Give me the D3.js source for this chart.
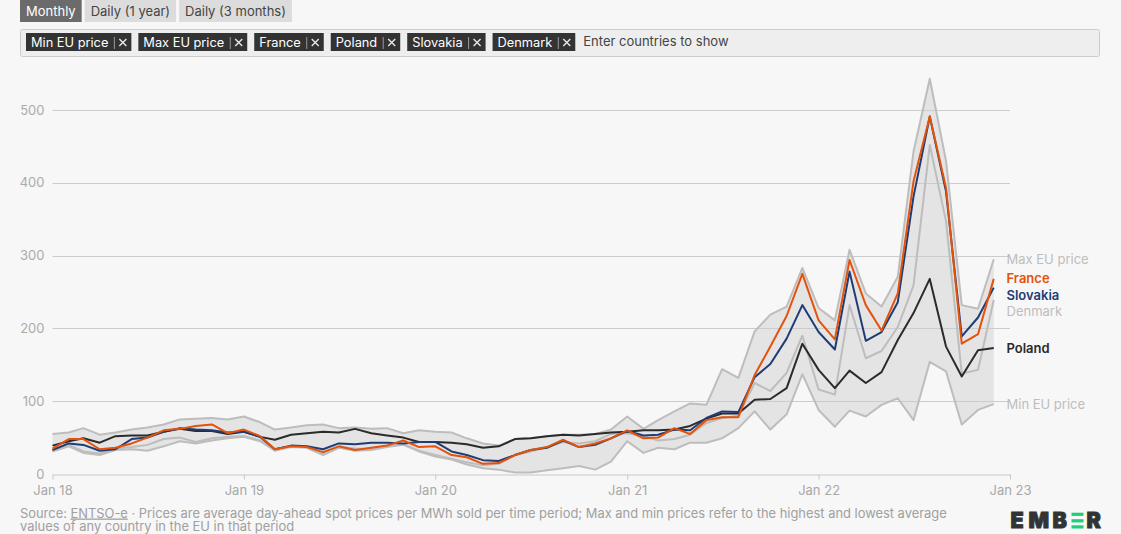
<!DOCTYPE html>
<html><head><meta charset="utf-8">
<script src="https://cdn.jsdelivr.net/npm/d3@7"></script>
<style>
html,body{margin:0;padding:0;background:#f7f7f7;}
svg{display:block;font-family:Inter,"Noto Sans",sans-serif;}
</style></head>
<body><svg id="c" width="1121" height="534"></svg>
<script>
// ---- data (EUR/MWh, monthly Jan 2018 .. Dec 2022) ----
const startMonth = "2018-01";
const monthCount = 60;
const maxEU = [55,57,63,54,57,61,64,68,75,76,77,75,
  79,71,61,64,67,68,63,64,62,63,56,60,
  58,57,49,42,39,48,49,52,54,54,55,61,
  79,62,74,86,97,95,144,132,196,219,230,283,
  228,211,308,248,230,271,443,543,430,232,227,295];
const minEU = [31,38,29,26,33,34,32,38,45,42,46,49,
  51,45,32,37,36,26,36,32,33,37,40,31,
  24,20,13,8,6,2,2,5,8,11,6,17,
  45,29,36,34,43,43,49,63,86,61,82,137,
  88,65,87,79,95,104,74,154,141,68,88,96];
const france = [35,48,48,34,36,42,50,60,62,66,68,56,
  61,52,34,38,37,30,38,33,36,39,46,37,
  38,26,23,14,15,26,33,37,47,37,42,49,
  60,49,50,63,55,74,78,78,136,175,217,275,
  211,185,294,232,197,248,402,491,393,179,192,268];
const slovakia = [33,42,40,32,34,48,50,58,63,61,60,57,
  58,51,34,39,38,34,42,41,43,43,42,44,
  44,31,26,19,18,26,33,36,46,37,40,49,
  59,53,54,61,60,77,86,85,133,151,186,232,
  195,171,278,183,195,236,381,491,388,189,215,256];
const poland = [39,45,49,43,52,53,53,58,62,59,59,55,
  58,51,47,54,56,58,57,62,56,53,50,44,
  44,43,41,36,38,48,49,52,54,53,55,57,
  58,60,60,61,66,76,83,83,102,103,118,179,
  143,118,142,125,140,184,221,268,175,134,170,173];
const denmark = [32,40,31,28,35,37,40,48,50,44,49,51,
  52,46,34,38,37,28,37,35,34,38,41,32,
  26,21,16,12,14,26,31,37,44,42,45,55,
  56,52,46,48,54,70,77,80,125,114,139,190,
  116,109,232,159,169,202,259,452,347,138,143,239];
const yTicks = [0,100,200,300,400,500];
const xTickDates = ["2018-01","2019-01","2020-01","2021-01","2022-01","2023-01"];
const xTickLabels = ["Jan 18","Jan 19","Jan 20","Jan 21","Jan 22","Jan 23"];
const tabs = ["Monthly","Daily (1 year)","Daily (3 months)"];
const chips = ["Min EU price","Max EU price","France","Poland","Slovakia","Denmark"];

const series = [
  {name:"Max EU price", values:maxEU, color:"#bdbdbd", label:"#bdbdbd"},
  {name:"Min EU price", values:minEU, color:"#bdbdbd", label:"#bdbdbd"},
  {name:"Denmark", values:denmark, color:"#bdbdbd", label:"#bdbdbd"},
  {name:"Poland", values:poland, color:"#2b2b2b", label:"#2b2b2b"},
  {name:"Slovakia", values:slovakia, color:"#1e3d76", label:"#1e3d76"},
  {name:"France", values:france, color:"#e4520b", label:"#e4520b"}
];

const parseM = d3.timeParse("%Y-%m");
const months = d3.timeMonth.range(parseM(startMonth), d3.timeMonth.offset(parseM(startMonth), monthCount));

const svg = d3.select("#c");
const x = d3.scaleTime().domain([parseM("2018-01"), parseM("2023-01")]).range([52.5, 1010]);
const y = d3.scaleLinear().domain([0,500]).range([474,110]);

// ---- tabs ----
let tx = 20;
tabs.forEach((t,i)=>{
  const g = svg.append("g");
  const txt = g.append("text").attr("x", tx+6).attr("y", 15.5).attr("font-size",13)
    .attr("fill", i===0?"#ffffff":"#444").text(t);
  const w = txt.node().getComputedTextLength()+12;
  g.insert("rect","text").attr("x",tx).attr("y",0).attr("width",w).attr("height",22)
    .attr("fill", i===0?"#6b6b6b":"#dcdcdc");
  tx += w + 3;
});

// ---- chip bar ----
svg.append("rect").attr("x",20.5).attr("y",29.5).attr("width",1079).attr("height",27)
  .attr("rx",2).attr("fill","#eeeeee").attr("stroke","#cccccc");
let cx = 26;
chips.forEach(c=>{
  const g = svg.append("g");
  const t1 = g.append("text").attr("x",cx+5).attr("y",46.5).attr("font-size",12.8).attr("fill","#fff").text(c);
  const w1 = t1.node().getComputedTextLength();
  const barX = cx+5+w1+6;
  g.append("line").attr("x1",barX).attr("x2",barX).attr("y1",37).attr("y2",49).attr("stroke","#999");
  const xs = barX+5;
  g.append("path").attr("d",`M${xs},${39}l7,7M${xs+7},${39}l-7,7`).attr("stroke","#e8e8e8").attr("stroke-width",1.4);
  const w = (xs+7+5) - cx;
  g.insert("rect",":first-child").attr("x",cx).attr("y",33).attr("width",w).attr("height",18).attr("fill","#333");
  cx += w + 7;
});
svg.append("text").attr("x",cx+1).attr("y",46).attr("font-size",13).attr("fill","#444").text("Enter countries to show");

// ---- band ----
const area = d3.area().x((d,i)=>x(months[i])).y0((d,i)=>y(minEU[i])).y1((d,i)=>y(maxEU[i]));
svg.append("path").datum(maxEU).attr("d",area).attr("fill","#e4e4e4");

// ---- grid ----
const grid = svg.append("g");
yTicks.filter(v=>v>0).forEach(v=>{
  grid.append("line").attr("x1",52.5).attr("x2",1010).attr("y1",Math.round(y(v))+0.5).attr("y2",Math.round(y(v))+0.5)
    .attr("stroke","#cccccc").attr("stroke-width",1);
});
yTicks.forEach(v=>{
  svg.append("text").attr("x",44.5).attr("y",y(v)+4.5).attr("text-anchor","end").attr("font-size",13)
    .attr("fill","#ababab").text(v);
});
const xa = svg.append("g").attr("transform","translate(0,474.5)")
  .call(d3.axisBottom(x).tickValues(xTickDates.map(parseM)).tickFormat((d,i)=>xTickLabels[i]).tickSize(5).tickSizeOuter(0));
xa.select(".domain").attr("stroke","#c8c8c8");
xa.selectAll(".tick line").attr("stroke","#c8c8c8");
xa.selectAll(".tick text").attr("fill","#a8a8a8").attr("font-size",13).attr("font-family","Inter,'Noto Sans',sans-serif").attr("dy","0.95em");

// ---- lines ----
const line = d3.line().x((d,i)=>x(months[i])).y(d=>y(d));
series.forEach(s=>{
  svg.append("path").datum(s.values).attr("d",line).attr("fill","none")
    .attr("stroke",s.color).attr("stroke-width",2).attr("stroke-linejoin","round");
});

// ---- end labels with collision avoidance ----
const labs = series.map(s=>({name:s.name,color:s.label,y:y(s.values[s.values.length-1])}))
  .sort((a,b)=>a.y-b.y);
const gap = 16.5;
for(let k=1;k<labs.length;k++){ if(labs[k].y < labs[k-1].y+gap) labs[k].y = labs[k-1].y+gap; }
labs.forEach(l=>{
  const isGray = l.color==="#bdbdbd";
  svg.append("text").attr("x",1006.5).attr("y",l.y+4.5).attr("font-size",13)
    .attr("font-weight", isGray?400:600).attr("fill",l.color).text(l.name);
});

// ---- footer ----
const f1 = svg.append("text").attr("x",20).attr("y",517.5).attr("font-size",12.9).attr("fill","#a0a0a0");
f1.append("tspan").text("Source: ");
f1.append("tspan").attr("text-decoration","underline").text("ENTSO-e");
f1.append("tspan").text(" · Prices are average day-ahead spot prices per MWh sold per time period; Max and min prices refer to the highest and lowest average");
svg.append("text").attr("x",20).attr("y",530.5).attr("font-size",12.9).attr("fill","#a0a0a0")
  .text("values of any country in the EU in that period");

// ---- EMBER logo ----
const logo = svg.append("g");
const letters = [["E",1010.5],["M",1028.5],["B",1052.5],["R",1086.5]];
letters.forEach(([c,lx])=>{
  logo.append("text").attr("x",lx).attr("y",528.3).attr("font-size",21.5).attr("font-weight",900)
    .attr("fill","#333").attr("stroke","#333").attr("stroke-width",0.9).text(c);
});
[512.7,519.2,525.3].forEach(by=>{
  logo.append("rect").attr("x",1071.5).attr("y",by).attr("width",12).attr("height",3.2).attr("fill","#1bcf7c");
});
</script></body></html>
